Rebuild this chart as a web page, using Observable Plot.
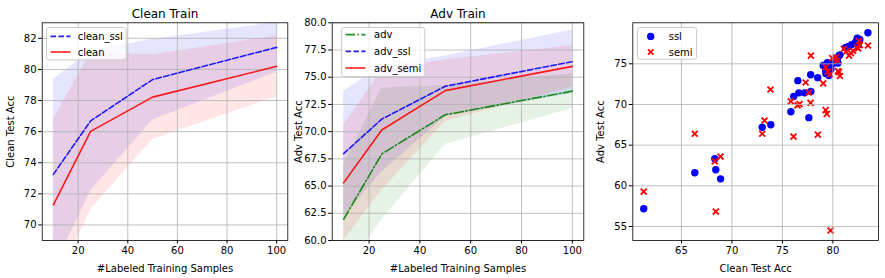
<!DOCTYPE html>
<html><head><meta charset="utf-8">
<script src="https://cdn.jsdelivr.net/npm/d3@7"></script>
<script src="https://cdn.jsdelivr.net/npm/@observablehq/plot@0.6"></script>
<style>
body{margin:0;background:#fff;}
#fig{position:relative;width:885px;height:278px;overflow:hidden;background:#fff;font-family:"DejaVu Sans",sans-serif;}
.panel{position:absolute;top:0;}
.legend{position:absolute;overflow:visible;}
</style>
</head><body><div id="fig"></div>
<script>
// ---- data ----
const samples = [10, 25, 50, 100];
const cleanSslMean = [73.25, 76.69, 79.35, 81.42];
const cleanSslStd  = [6.1, 4.5, 2.6, 1.6];
const cleanMean    = [71.29, 76.02, 78.22, 80.2];
const cleanStd     = [5.5, 5.05, 2.73, 1.95];

const advMean      = [61.95, 67.95, 71.55, 73.72];
const advStd       = [5.0, 6.05, 2.7, 1.6];
const advSslMean   = [67.98, 71.15, 74.17, 76.43];
const advSslStd    = [5.73, 4.85, 2.78, 2.92];
const advSemiMean  = [65.3, 70.15, 73.77, 76.0];
const advSemiStd   = [5.3, 5.5, 2.83, 1.9];

const sslClean = [61.26,66.32,68.3,68.4,68.87,73.0,73.85,75.84,77.62,76.12,76.63,77.2,77.82,76.53,77.8,78.5,79.04,79.3,79.45,79.6,79.3,79.7,80.0,80.3,80.45,80.6,80.7,80.5,81.26,81.5,81.85,82.25,82.41,82.67,83.47,80.2,79.8,82.5];
const sslAdv   = [57.18,61.6,63.32,61.97,60.86,67.2,67.5,69.1,68.38,70.98,71.43,71.43,71.6,72.93,73.65,73.3,74.8,74.2,75.15,73.55,73.8,74.6,75.0,75.2,75.6,76.0,76.1,75.1,77.0,77.1,77.35,77.65,78.15,78.0,78.81,75.5,74.3,77.3];
const semiClean = [61.26,66.32,68.3,68.87,68.4,73.0,73.23,73.82,75.84,76.1,76.5,76.7,77.3,77.62,77.79,77.82,78.51,79.04,79.28,79.4,79.77,79.3,79.5,79.7,79.94,80.3,80.45,80.6,80.7,80.5,81.09,81.3,81.8,82.0,82.41,82.67,82.5,83.47,82.6,81.6];
const semiAdv   = [59.3,66.4,63.0,63.6,56.84,66.4,68.03,71.84,70.37,66.06,69.9,70.05,72.7,71.5,70.2,76.0,66.3,72.6,69.3,68.85,54.51,74.6,74.0,73.7,75.69,75.8,75.4,73.97,73.5,74.1,76.84,76.5,76.3,76.6,77.0,77.3,76.9,77.25,77.8,76.0];

// ---- helpers ----
const GRID = "#b0b0b0";
const DASH = "5.55,2.4";
const DASHDOT = "9.6,2.4,1.5,2.4";
const style = {fontFamily: "DejaVu Sans, sans-serif", fontSize: "10px", color: "black", background: "white", overflow: "visible"};

function rows(means, stds) {
  return samples.map((x, i) => ({x, y: means[i], lo: means[i] - stds[i], hi: means[i] + stds[i]}));
}

function linePanel({left, width, mL, mR, yDomain, yTicks, yFmt, yLabel, yLabelOffset, title, series}) {
  const xTicks = [20, 40, 60, 80, 100];
  const marks = [];
  for (const s of series) {
    marks.push(Plot.areaY(s.data, {x: "x", y1: "lo", y2: "hi", fill: s.color, fillOpacity: 0.1, clip: true}));
  }
  marks.push(Plot.gridX(xTicks, {stroke: GRID, strokeOpacity: 1, strokeWidth: 0.8}));
  marks.push(Plot.gridY(yTicks, {stroke: GRID, strokeOpacity: 1, strokeWidth: 0.8}));
  for (const s of series) {
    marks.push(Plot.line(s.data, {x: "x", y: "y", stroke: s.color, strokeWidth: 1.6, strokeOpacity: 0.88, strokeDasharray: s.dash, clip: true}));
  }
  marks.push(Plot.frame({stroke: "black", strokeWidth: 0.8}));
  marks.push(Plot.axisX(xTicks, {tickSize: 3.5, tickPadding: 2.5, label: "#Labeled Training Samples", labelAnchor: "center", labelArrow: "none", labelOffset: 31, fontSize: 10}));
  marks.push(Plot.axisY(yTicks, {tickSize: 3.5, tickPadding: 2.2, tickFormat: yFmt, label: yLabel, labelAnchor: "center", labelArrow: "none", labelOffset: yLabelOffset, fontSize: 10}));
  marks.push(Plot.text([title], {frameAnchor: "top", lineAnchor: "bottom", dy: -5, fontSize: 12, text: d => d}));
  const p = Plot.plot({
    width, height: 278, marginLeft: mL, marginRight: mR, marginTop: 22.3, marginBottom: 38,
    x: {domain: [5.5, 104.5]},
    y: {domain: yDomain},
    style, marks
  });
  p.classList.add("panel");
  p.style.left = left + "px";
  return p;
}

const fig = document.getElementById("fig");

fig.appendChild(linePanel({
  left: 0, width: 300, mL: 41.7, mR: 12.7,
  yDomain: [69, 83], yTicks: [70, 72, 74, 76, 78, 80, 82], yFmt: d3.format("d"),
  yLabel: "Clean Test Acc", yLabelOffset: 35, title: "Clean Train",
  series: [
    {data: rows(cleanSslMean, cleanSslStd), color: "blue", dash: DASH},
    {data: rows(cleanMean, cleanStd), color: "red", dash: null}
  ]
}));

fig.appendChild(linePanel({
  left: 290, width: 300, mL: 41.7, mR: 6.7,
  yDomain: [60, 80], yTicks: [60, 62.5, 65, 67.5, 70, 72.5, 75, 77.5, 80], yFmt: d3.format(".1f"),
  yLabel: "Adv Test Acc", yLabelOffset: 37.4, title: "Adv Train",
  series: [
    {data: rows(advMean, advStd), color: "green", dash: DASHDOT},
    {data: rows(advSslMean, advSslStd), color: "blue", dash: DASH},
    {data: rows(advSemiMean, advSemiStd), color: "red", dash: null}
  ]
}));

// scatter panel
const sslPts = sslClean.map((c, i) => ({c, a: sslAdv[i]}));
const semiPts = semiClean.map((c, i) => ({c, a: semiAdv[i]}));
const sxT = [65, 70, 75, 80], syT = [55, 60, 65, 70, 75];
const sp = Plot.plot({
  width: 295, height: 278, marginLeft: 42.3, marginRight: 7, marginTop: 22.3, marginBottom: 38,
  x: {domain: [60.18, 84.52]},
  y: {domain: [53.28, 80.04]},
  style,
  marks: [
    Plot.dot(sslPts, {x: "c", y: "a", r: 3.7, fill: "blue", stroke: null}),
    Plot.dot(semiPts, {x: "c", y: "a", r: 2.8, symbol: "times", stroke: "red", strokeWidth: 1.8}),
    Plot.gridX(sxT, {stroke: GRID, strokeOpacity: 1, strokeWidth: 0.8}),
    Plot.gridY(syT, {stroke: GRID, strokeOpacity: 1, strokeWidth: 0.8}),
    Plot.frame({stroke: "black", strokeWidth: 0.8}),
    Plot.axisX(sxT, {tickSize: 3.5, tickPadding: 2.5, label: "Clean Test Acc", labelAnchor: "center", labelArrow: "none", labelOffset: 31, fontSize: 10}),
    Plot.axisY(syT, {tickSize: 3.5, tickPadding: 2.2, label: "Adv Test Acc", labelAnchor: "center", labelArrow: "none", labelOffset: 35.6, fontSize: 10})
  ]
});
sp.classList.add("panel");
sp.style.left = "590px";
fig.appendChild(sp);

// ---- legends ----
function legend(left, top, w, h, items) {
  const ns = "http://www.w3.org/2000/svg";
  const svg = document.createElementNS(ns, "svg");
  svg.setAttribute("class", "legend");
  svg.setAttribute("width", w + 2);
  svg.setAttribute("height", h + 2);
  svg.style.left = (left - 1) + "px";
  svg.style.top = (top - 1) + "px";
  const r = document.createElementNS(ns, "rect");
  Object.entries({x: 1.5, y: 1.5, width: w - 1, height: h - 1, rx: 2.5, fill: "white", "fill-opacity": 0.8, stroke: "#cccccc", "stroke-width": 1}).forEach(([k, v]) => r.setAttribute(k, v));
  svg.appendChild(r);
  items.forEach((it) => {
    const cy = 1 + it.y;
    if (it.kind === "line") {
      const l = document.createElementNS(ns, "line");
      Object.entries({x1: 1 + 4.5, x2: 1 + 24.5, y1: cy, y2: cy, stroke: it.color, "stroke-width": 1.6, "stroke-opacity": 0.88}).forEach(([k, v]) => l.setAttribute(k, v));
      if (it.dash) l.setAttribute("stroke-dasharray", it.dash);
      svg.appendChild(l);
    } else if (it.kind === "dot") {
      const c = document.createElementNS(ns, "circle");
      Object.entries({cx: 1 + 13.7, cy, r: 3.7, fill: it.color}).forEach(([k, v]) => c.setAttribute(k, v));
      svg.appendChild(c);
    } else {
      const p = document.createElementNS(ns, "path");
      const x = 1 + 13.7, s = 2.7;
      p.setAttribute("d", `M${x - s},${cy - s}L${x + s},${cy + s}M${x - s},${cy + s}L${x + s},${cy - s}`);
      p.setAttribute("stroke", it.color);
      p.setAttribute("stroke-width", 1.8);
      svg.appendChild(p);
    }
    const t = document.createElementNS(ns, "text");
    t.setAttribute("x", 1 + it.tx);
    t.setAttribute("y", cy);
    t.setAttribute("dy", "0.35em");
    t.setAttribute("font-family", "DejaVu Sans, sans-serif");
    t.setAttribute("font-size", "10");
    t.textContent = it.label;
    svg.appendChild(t);
  });
  fig.appendChild(svg);
}

legend(46, 27.3, 80.7, 33.4, [
  {kind: "line", color: "blue", dash: DASH, label: "clean_ssl", y: 9.4, tx: 31.7},
  {kind: "line", color: "red", dash: null, label: "clean", y: 25, tx: 31.7}
]);
legend(340.7, 27.3, 84.3, 50, [
  {kind: "line", color: "green", dash: DASHDOT, label: "adv", y: 7.6, tx: 33},
  {kind: "line", color: "blue", dash: DASH, label: "adv_ssl", y: 24.4, tx: 33},
  {kind: "line", color: "red", dash: null, label: "adv_semi", y: 41, tx: 33}
]);
legend(637.3, 27.3, 60, 32.7, [
  {kind: "dot", color: "blue", label: "ssl", y: 9.4, tx: 31.7},
  {kind: "x", color: "red", label: "semi", y: 25, tx: 31.7}
]);
</script>
</body></html>
